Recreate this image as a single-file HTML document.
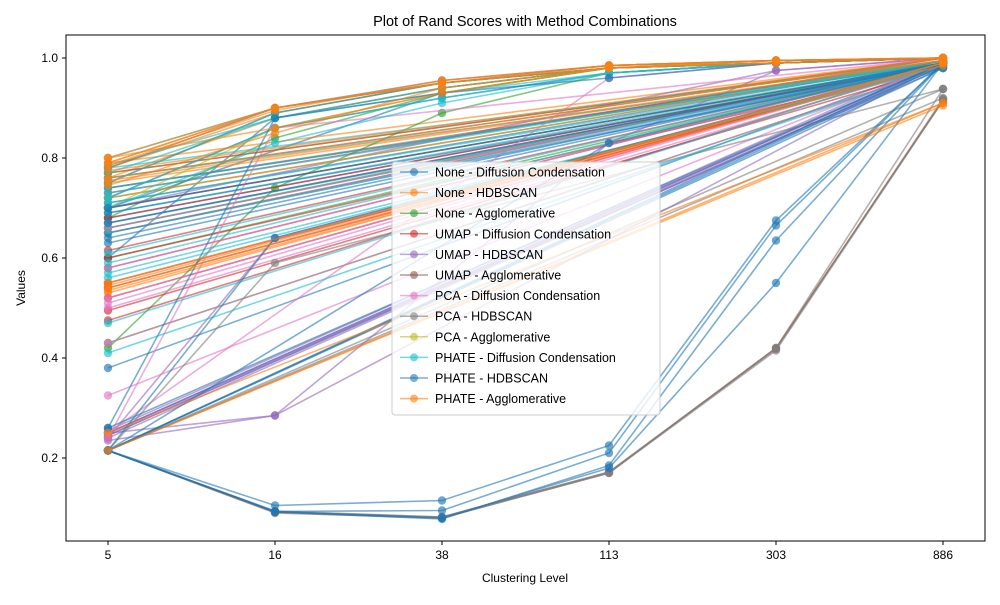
<!DOCTYPE html>
<html><head><meta charset="utf-8"><style>
body{margin:0;background:#fff;font-family:"Liberation Sans",sans-serif}
</style></head><body>
<svg id="chart" width="1000" height="600" xmlns="http://www.w3.org/2000/svg" style="font-family:'Liberation Sans',sans-serif">
<rect width="1000" height="600" fill="#fff"/>
<text x="525" y="26" text-anchor="middle" font-size="14.5">Plot of Rand Scores with Method Combinations</text>
<g id="marks"></g>
<rect x="66" y="35" width="919" height="506" fill="none" stroke="#000" stroke-width="1"/>
<g id="axes"></g>
<text x="525" y="582" text-anchor="middle" font-size="12">Clustering Level</text>
<text x="25" y="288" text-anchor="middle" font-size="12" transform="rotate(-90 25 288)">Values</text>
<g id="legend"></g>
</svg>
<script>
const categories=["5","16","38","113","303","886"];
const yTicks=[0.2,0.4,0.6,0.8,1.0];
const seriesNames=["None - Diffusion Condensation","None - HDBSCAN","None - Agglomerative","UMAP - Diffusion Condensation","UMAP - HDBSCAN","UMAP - Agglomerative","PCA - Diffusion Condensation","PCA - HDBSCAN","PCA - Agglomerative","PHATE - Diffusion Condensation","PHATE - HDBSCAN","PHATE - Agglomerative"];
const colors=["#1f77b4","#ff7f0e","#2ca02c","#d62728","#9467bd","#8c564b","#e377c2","#7f7f7f","#bcbd22","#17becf","#1f77b4","#ff7f0e"];
const N=null;
const s0=[[0.70,N,0.93,0.98,0.99,1.0],[0.66,N,N,N,N,0.99],[0.60,0.88,0.94,0.98,0.99,1.0],[0.38,N,N,N,N,0.99],[0.72,0.86,0.92,0.97,0.99,1.0],[0.74,N,N,N,N,0.99],[0.71,N,N,N,N,0.995],[0.68,N,N,N,N,0.99],[0.65,N,N,N,N,0.985],[0.63,N,N,N,N,0.99],[0.25,N,N,N,N,0.99],[0.245,N,N,N,N,0.985]];
const s1=[[0.79,0.90,0.95,0.985,0.995,1.0],[0.78,0.89,0.95,0.98,0.99,1.0],[0.545,N,N,N,N,0.99],[0.53,N,N,N,N,0.99],[0.76,0.88,0.94,0.98,0.99,1.0],[0.77,N,N,N,N,1.0],[0.75,N,N,N,N,0.995],[0.79,N,N,N,N,1.0],[0.215,N,N,N,N,0.91]];
const s2=[[0.42,0.74,0.89,0.97,0.99,1.0],[0.60,N,N,N,N,0.99],[0.68,0.84,0.93,0.98,0.99,1.0],[0.43,N,N,N,N,0.98],[0.70,N,N,N,N,0.99],[0.66,N,N,N,N,0.995]];
const s3=[[0.615,N,N,N,N,0.99],[0.60,N,N,N,N,0.98],[0.55,N,N,N,N,0.985],[0.52,N,N,N,N,0.99],[0.495,N,N,N,N,0.98],[0.475,N,N,N,N,0.99],[0.67,N,N,N,N,0.99],[0.65,N,N,N,N,0.995],[0.70,N,N,N,N,0.99],[0.72,N,N,N,N,0.995],[0.68,N,N,N,N,0.99],[0.73,N,N,N,N,1.0],[0.58,N,N,N,N,0.99],[0.54,N,N,N,N,0.985]];
const s4=[[0.25,0.285,N,0.83,0.975,1.0],[0.235,0.285,N,N,N,0.99],[0.25,N,N,N,N,0.99],[0.24,0.64,N,N,N,0.99],[0.255,N,N,N,N,0.995],[0.25,N,N,N,N,0.98],[0.245,N,N,N,N,0.99],[0.24,N,N,N,N,0.985],[0.7,N,N,N,0.975,1.0]];
const s5=[[0.215,0.09,0.08,0.17,0.42,0.915],[0.215,0.092,0.082,0.172,0.418,0.918],[0.75,0.89,0.95,0.98,0.99,1.0],[0.76,N,N,N,N,1.0],[0.78,0.90,0.955,0.985,0.995,1.0],[0.74,N,N,N,N,0.995],[0.77,N,N,N,N,1.0]];
const s6=[[0.325,N,N,N,N,0.99],[0.43,N,N,N,N,0.98],[0.58,N,N,N,N,0.99],[0.25,N,N,0.96,0.99,1.0],[0.51,N,N,N,N,0.99],[0.24,0.86,N,N,N,1.0],[0.5,N,N,N,N,0.985],[0.52,N,N,N,N,0.99],[0.66,N,N,N,N,0.99]];
const s7=[[0.215,0.093,0.08,0.17,0.415,0.915],[0.215,0.59,N,N,N,0.938],[0.215,0.094,0.082,0.172,0.42,0.938],[0.215,N,N,N,N,0.938],[0.215,N,N,N,N,0.92]];
const s8=[[0.70,0.86,0.93,0.98,0.99,1.0],[0.72,N,N,N,N,0.995]];
const s9=[[0.80,0.90,0.95,0.98,0.99,1.0],[0.77,0.88,0.94,0.98,0.99,1.0],[0.72,0.86,0.92,0.97,0.99,1.0],[0.70,0.83,0.91,0.97,0.99,1.0],[0.65,N,N,N,N,0.99],[0.57,N,N,N,N,0.98],[0.47,N,N,N,N,0.99],[0.41,N,N,N,N,0.98],[0.75,0.89,0.95,0.98,0.995,1.0],[0.78,N,N,N,N,0.995],[0.76,N,N,N,N,0.99],[0.74,N,N,N,N,0.99],[0.73,N,N,N,N,0.995],[0.71,N,N,N,N,0.99],[0.69,N,N,N,N,0.99],[0.67,N,N,N,N,0.985],[0.61,N,N,N,N,0.99],[0.59,N,N,N,N,0.99],[0.56,N,N,N,N,0.985],[0.785,0.88,0.93,0.97,0.99,1.0]];
const s10=[[0.215,0.093,0.08,0.18,0.55,0.99],[0.215,0.092,0.078,0.185,0.635,0.99],[0.215,0.105,0.115,0.225,0.675,0.99],[0.215,0.093,0.095,0.21,0.665,0.99],[0.26,0.88,0.93,0.96,0.99,1.0],[0.215,0.64,N,N,N,0.99],[0.215,N,N,N,N,0.99],[0.215,N,N,N,N,0.985],[0.215,N,N,N,N,0.98],[0.26,N,N,N,N,0.99],[0.215,N,N,0.83,N,0.99],[0.7,N,N,N,N,0.99],[0.69,N,N,N,N,0.985],[0.67,N,N,N,N,0.99],[0.64,N,N,N,N,0.99]];
const s11=[[0.80,0.90,0.95,0.985,0.995,1.0],[0.785,0.895,0.955,0.985,0.995,1.0],[0.745,0.85,0.94,0.98,0.99,1.0],[0.54,N,N,N,N,0.99],[0.25,N,N,N,N,0.91],[0.215,N,N,N,N,0.905],[0.79,0.90,0.95,0.98,0.995,1.0],[0.775,N,N,N,N,1.0],[0.76,N,N,N,N,1.0],[0.755,N,N,N,N,0.995],[0.55,N,N,N,N,0.99],[0.535,N,N,N,N,0.985],[0.8,0.86,0.93,0.98,0.99,1.0]];
const allSeries=[s0,s1,s2,s3,s4,s5,s6,s7,s8,s9,s10,s11];
const NS="http://www.w3.org/2000/svg";
function xPos(i){return 108+i*167;}
function yPos(v){return 58+(1-v)*500;}
function mk(t,a,p){const e=document.createElementNS(NS,t);for(const k in a)e.setAttribute(k,a[k]);p.appendChild(e);return e;}
const marks=document.getElementById('marks');
allSeries.forEach((ser,si)=>{
  const g=mk('g',{},marks);
  
  
  ser.forEach(line=>{
    const pts=[];line.forEach((v,i)=>{if(v!==null)pts.push(xPos(i)+','+yPos(v));});
    const pl=mk('polyline',{points:pts.join(' '),fill:'none',stroke:colors[si],'stroke-width':1.6,'stroke-opacity':0.6},g);
    
    
    line.forEach((v,i)=>{if(v===null)return;
      const c=mk('circle',{cx:xPos(i),cy:yPos(v),r:4.2,fill:colors[si],'fill-opacity':0.65},g);
      
      
    });
  });
});
const axes=document.getElementById('axes');
categories.forEach((c,i)=>{
  mk('line',{x1:xPos(i),x2:xPos(i),y1:541,y2:545,stroke:'#000'},axes);
  const t=mk('text',{x:xPos(i),y:559,'text-anchor':'middle','font-size':12},axes);t.textContent=c;
  
  
});
yTicks.forEach(v=>{
  mk('line',{x1:62,x2:66,y1:yPos(v),y2:yPos(v),stroke:'#000'},axes);
  const t=mk('text',{x:58,y:yPos(v)+4,'text-anchor':'end','font-size':12},axes);t.textContent=v.toFixed(1);
  
  
});
const lg=document.getElementById('legend');


mk('rect',{x:392,y:162,width:268,height:253,rx:3,fill:'#fff','fill-opacity':0.8,stroke:'#ccc'},lg);
seriesNames.forEach((n,i)=>{
  const y=172+i*20.6;
  const e=mk('g',{},lg);
  
  
  mk('line',{x1:400,x2:428,y1:y,y2:y,stroke:colors[i],'stroke-width':1.5,'stroke-opacity':0.6},e);
  mk('circle',{cx:414,cy:y,r:4,fill:colors[i],'fill-opacity':0.6},e);
  const t=mk('text',{x:435,y:y+4.5,'font-size':12.5},e);t.textContent=n;
});
</script>
</body></html>
